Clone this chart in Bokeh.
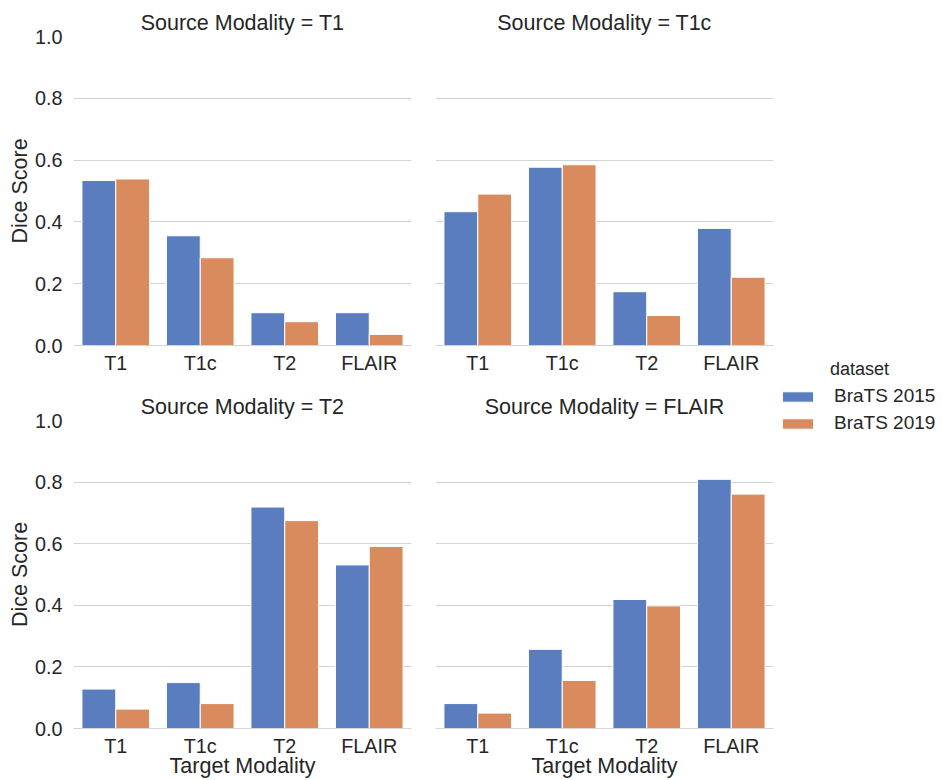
from bokeh.plotting import figure
from bokeh.models import Range1d, FactorRange, FixedTicker, ColumnDataSource, Legend, LegendItem, Label
from bokeh.transform import dodge
from bokeh.layouts import row, column
from bokeh.embed import file_html
from bokeh.resources import INLINE

# ---- data ----
targets = ["T1", "T1c", "T2", "FLAIR"]
sources = ["T1", "T1c", "T2", "FLAIR"]
series_names = ["BraTS 2015", "BraTS 2019"]

brats2015_src_T1 = [0.534, 0.355, 0.106, 0.106]
brats2019_src_T1 = [0.539, 0.284, 0.077, 0.036]
brats2015_src_T1c = [0.433, 0.577, 0.174, 0.379]
brats2019_src_T1c = [0.490, 0.585, 0.097, 0.221]
brats2015_src_T2 = [0.128, 0.149, 0.719, 0.531]
brats2019_src_T2 = [0.063, 0.081, 0.675, 0.591]
brats2015_src_FLAIR = [0.081, 0.257, 0.419, 0.809]
brats2019_src_FLAIR = [0.050, 0.156, 0.398, 0.761]

y_ticks = [0.0, 0.2, 0.4, 0.6, 0.8, 1.0]

panel_values = {
    "T1": (brats2015_src_T1, brats2019_src_T1),
    "T1c": (brats2015_src_T1c, brats2019_src_T1c),
    "T2": (brats2015_src_T2, brats2019_src_T2),
    "FLAIR": (brats2015_src_FLAIR, brats2019_src_FLAIR),
}

# ---- style ----
C15 = "#597dbf"
C19 = "#d98b5e"
TXT = "#262626"
GRID = "#d4d4d4"
FONT = "Liberation Sans"
TICK_FS = "19.8px"
LABEL_FS = "21.5px"


def make_panel(src_name, width, height, left, right, top, bottom, first_col, last_row,
               title_standoff):
    v15, v19 = panel_values[src_name]
    p = figure(width=width, height=height,
               x_range=FactorRange(*targets), y_range=Range1d(0, 1.0),
               output_backend="svg", toolbar_location=None,
               title=f"Source Modality = {src_name}",
               min_border_left=left, min_border_right=right,
               min_border_top=top, min_border_bottom=bottom)
    cds = ColumnDataSource(dict(target=targets, b15=v15, b19=v19))
    p.vbar(x=dodge("target", -0.2, range=p.x_range), top="b15", width=0.4,
           source=cds, fill_color=C15, line_color="white", line_width=1)
    p.vbar(x=dodge("target", 0.2, range=p.x_range), top="b19", width=0.4,
           source=cds, fill_color=C19, line_color="white", line_width=1)

    p.outline_line_color = None
    p.background_fill_color = "white"
    p.border_fill_color = "white"

    p.xgrid.visible = False
    p.ygrid.ticker = FixedTicker(ticks=y_ticks)
    p.ygrid.grid_line_color = GRID
    p.ygrid.grid_line_width = 1

    p.title.text_font = FONT
    p.title.text_font_size = LABEL_FS
    p.title.text_font_style = "normal"
    p.title.text_color = TXT
    p.title.align = "center"
    p.title.standoff = title_standoff

    xa = p.xaxis[0]
    xa.axis_line_color = GRID
    xa.major_tick_line_color = None
    xa.minor_tick_line_color = None
    xa.major_label_text_font = FONT
    xa.major_label_text_font_size = TICK_FS
    xa.major_label_text_color = TXT
    xa.major_label_standoff = 0
    if last_row:
        xa.axis_label = "Target Modality"
        xa.axis_label_text_font = FONT
        xa.axis_label_text_font_size = LABEL_FS
        xa.axis_label_text_font_style = "normal"
        xa.axis_label_text_color = TXT
        xa.axis_label_standoff = -6

    ya = p.yaxis[0]
    ya.ticker = FixedTicker(ticks=y_ticks)
    if first_col:
        ya.axis_line_color = None
        ya.major_tick_line_color = None
        ya.minor_tick_line_color = None
        ya.major_label_text_font = FONT
        ya.major_label_text_font_size = TICK_FS
        ya.major_label_text_color = TXT
        ya.major_label_standoff = 5
        ya.major_label_overrides = {t: f"{t:.1f}" for t in y_ticks}
        ya.axis_label = "Dice Score"
        ya.axis_label_text_font = FONT
        ya.axis_label_text_font_size = LABEL_FS
        ya.axis_label_text_font_style = "normal"
        ya.axis_label_text_color = TXT
        ya.axis_label_standoff = 0
    else:
        ya.visible = False
    return p


W_LEFT, W_RIGHT = 423, 355
H_TOP, H_BOT = 391, 389

p1 = make_panel("T1", W_LEFT, H_TOP, 73, 12, 36, 46, True, False, 4)
p2 = make_panel("T1c", W_RIGHT, H_TOP, 12, 5, 36, 46, False, False, 4)
p3 = make_panel("T2", W_LEFT, H_BOT, 73, 12, 28, 52, True, True, 3)
p4 = make_panel("FLAIR", W_RIGHT, H_BOT, 12, 5, 28, 52, False, True, 3)

# ---- legend figure ----
LH = H_TOP + H_BOT
LW = 942 - W_LEFT - W_RIGHT
pl = figure(width=LW, height=LH, x_range=Range1d(0, 1), y_range=Range1d(0, 1),
            output_backend="svg", toolbar_location=None,
            min_border_left=0, min_border_right=0, min_border_top=0, min_border_bottom=0)
pl.axis.visible = False
pl.grid.visible = False
pl.outline_line_color = None
# invisible (zero-size) proxy glyphs used only to draw the legend swatches
r15 = pl.vbar(x=[0.5], top=[0.0], bottom=[0.0], width=0.0,
              fill_color=C15, line_color="white", line_width=1)
r19 = pl.vbar(x=[0.5], top=[0.0], bottom=[0.0], width=0.0,
              fill_color=C19, line_color="white", line_width=1)
legend = Legend(items=[LegendItem(label=series_names[0], renderers=[r15]),
                       LegendItem(label=series_names[1], renderers=[r19])],
                location=(0, 346), padding=0, margin=0, spacing=5,
                glyph_width=39, glyph_height=13, label_standoff=17,
                label_text_font=FONT, label_text_font_size="19px", label_text_color=TXT,
                border_line_color=None, background_fill_alpha=0)
pl.add_layout(legend, "center")
pl.add_layout(Label(x=81, y=LH - 368, x_units="screen", y_units="screen", text="dataset",
                    text_align="center", text_baseline="middle", text_font=FONT,
                    text_font_size="18px", text_color=TXT))

layout = row(column(row(p1, p2), row(p3, p4)), pl)

open("out.html", "w").write(file_html(layout, INLINE))
